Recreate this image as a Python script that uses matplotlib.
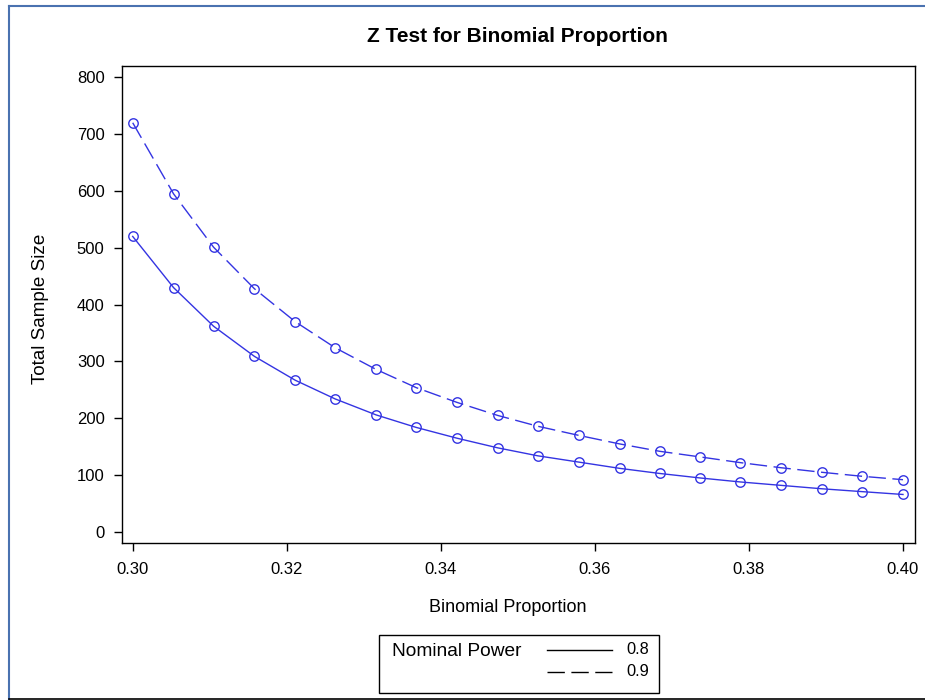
import matplotlib
matplotlib.use("Agg")
import matplotlib.pyplot as plt
from matplotlib.patches import Rectangle
from matplotlib.lines import Line2D

plt.rcParams['font.family'] = ['Liberation Sans', 'DejaVu Sans']

proportion = [0.3000, 0.3053, 0.3105, 0.3158, 0.3211, 0.3263, 0.3316, 0.3368,
              0.3421, 0.3474, 0.3526, 0.3579, 0.3632, 0.3684, 0.3737, 0.3789,
              0.3842, 0.3895, 0.3947, 0.4000]
n_power_08 = [520, 430, 362, 309, 267, 234, 206, 184, 165, 148,
              134, 123, 112, 103, 95, 88, 82, 76, 71, 66]
n_power_09 = [720, 595, 501, 428, 370, 324, 286, 254, 228, 205,
              186, 170, 155, 142, 132, 122, 113, 105, 98, 92]
power_labels = ["0.8", "0.9"]
x_ticks = [0.30, 0.32, 0.34, 0.36, 0.38, 0.40]
y_ticks = [0, 100, 200, 300, 400, 500, 600, 700, 800]

W, H = 925, 700
fig = plt.figure(figsize=(W / 100, H / 100), dpi=100)
fig.patch.set_facecolor('white')

def fx(px):
    return px / W

def fy(py):
    return 1 - py / H

left, right, top, bottom = 121.7, 915.0, 65.7, 543.3
aw, ah = right - left, bottom - top
ax = fig.add_axes([fx(left), fy(bottom), fx(aw), ah / H])

blue = '#3434e2'
dash = (0, (12.5, 4.7))
ax.plot(proportion, n_power_08, color=blue, lw=1.0, linestyle='-',
        marker='o', markersize=6.8, markerfacecolor='none', markeredgewidth=1.0)
ax.plot(proportion, n_power_09, color=blue, lw=1.0, linestyle=dash,
        marker='o', markersize=6.8, markerfacecolor='none', markeredgewidth=1.0)

ax.set_xlim(0.29857, 0.40156)
ax.set_ylim(-19.9, 820.4)
ax.set_xticks(x_ticks)
ax.set_xticklabels([f"{t:.2f}" for t in x_ticks])
ax.set_yticks(y_ticks)
ax.tick_params(direction='out', length=5.8, width=1.0, labelsize=12,
               colors='black')
ax.tick_params(axis='x', pad=8)
ax.tick_params(axis='y', pad=6.5)
for s in ax.spines.values():
    s.set_linewidth(1.0)
    s.set_color('black')

ax.set_title("Z Test for Binomial Proportion", fontsize=15, fontweight='bold',
             y=(bottom - 42.3) / ah, pad=0, x=(517.5 - left) / aw)
ax.set_xlabel("Binomial Proportion", fontsize=13)
ax.xaxis.label.set_va('center')
ax.xaxis.set_label_coords((507.5 - left) / aw, (bottom - 607.5) / ah)
ax.set_ylabel("Total Sample Size", fontsize=13.6)
ax.yaxis.label.set_va('center')
ax.yaxis.set_label_coords((40.5 - left) / aw, (bottom - 309) / ah)

# legend box
lx0, lx1, ly0, ly1 = 379, 659, 635, 693
fig.add_artist(Rectangle((fx(lx0), fy(ly1)), fx(lx1 - lx0), (ly1 - ly0) / H,
                         transform=fig.transFigure, fill=False,
                         edgecolor='black', lw=1.0))
fig.text(fx(392), fy(651), "Nominal Power", fontsize=13.8, va='center', ha='left')
fig.add_artist(Line2D([fx(547), fx(612)], [fy(650), fy(650)],
                      transform=fig.transFigure, color='black', lw=1.0))
fig.add_artist(Line2D([fx(547), fx(612)], [fy(672), fy(672)],
                      transform=fig.transFigure, color='black', lw=1.0,
                      linestyle=(0, (12.5, 4.7))))
fig.text(fx(626), fy(650), power_labels[0], fontsize=11.8, va='center', ha='left')
fig.text(fx(626), fy(672), power_labels[1], fontsize=11.8, va='center', ha='left')

# outer frame
fig.add_artist(Line2D([fx(9), fx(9)], [fy(5.5), fy(700)], transform=fig.transFigure,
                      color='#4a72b0', lw=1.5))
fig.add_artist(Line2D([fx(9), fx(925)], [fy(5.5), fy(5.5)], transform=fig.transFigure,
                      color='#4a72b0', lw=1.5))
fig.add_artist(Line2D([fx(9), fx(925)], [fy(699), fy(699)], transform=fig.transFigure,
                      color='black', lw=1.2))

fig.savefig("out.png", dpi=100)
